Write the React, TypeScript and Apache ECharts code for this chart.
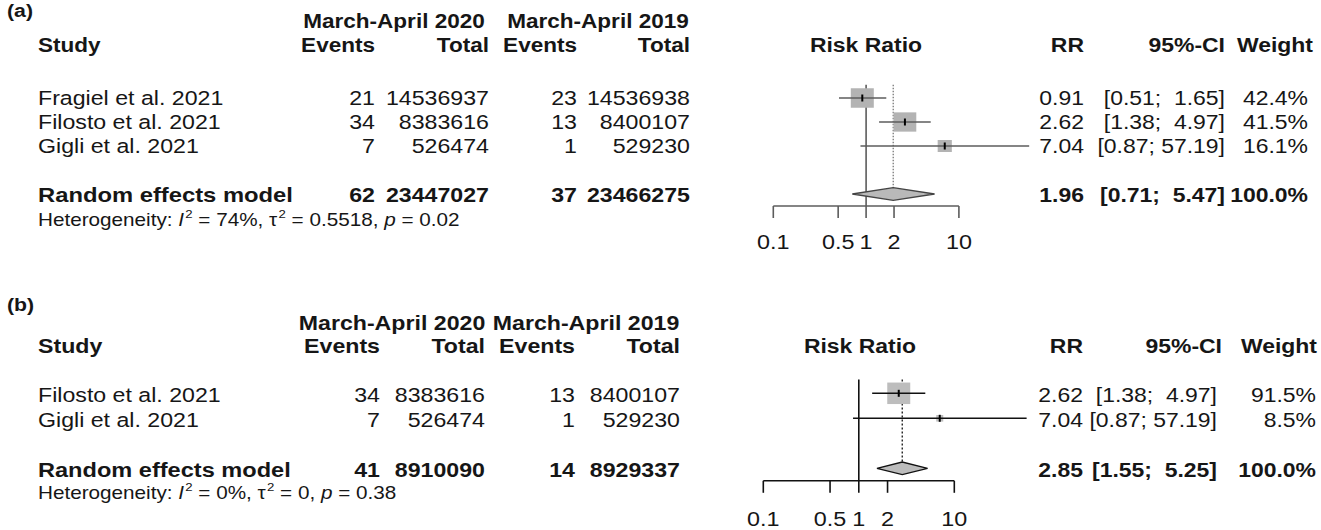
import React, { useEffect, useRef } from "react";
import * as echarts from "echarts";

const FONT = "'Liberation Sans', Arial, Helvetica, sans-serif";
const INK = "#161616";

// ---------- Panel (a): three studies ----------
const studiesA = ["Fragiel et al. 2021", "Filosto et al. 2021", "Gigli et al. 2021"];
const events2020A = [21, 34, 7];
const total2020A = [14536937, 8383616, 526474];
const events2019A = [23, 13, 1];
const total2019A = [14536938, 8400107, 529230];
const rrA = [0.91, 2.62, 7.04];
const lowerA = [0.51, 1.38, 0.87];
const upperA = [1.65, 4.97, 57.19];
const weightA = [42.4, 41.5, 16.1];
const pooledA = [1.96, 0.71, 5.47]; // RR, lower, upper
const pooledCountsA = [62, 23447027, 37, 23466275];
const hetA = ["74%", "0.5518", "0.02"]; // I², tau², p

// ---------- Panel (b): two studies ----------
const studiesB = ["Filosto et al. 2021", "Gigli et al. 2021"];
const events2020B = [34, 7];
const total2020B = [8383616, 526474];
const events2019B = [13, 1];
const total2019B = [8400107, 529230];
const rrB = [2.62, 7.04];
const lowerB = [1.38, 0.87];
const upperB = [4.97, 57.19];
const weightB = [91.5, 8.5];
const pooledB = [2.85, 1.55, 5.25];
const pooledCountsB = [41, 8910090, 14, 8929337];
const hetB = ["0%", "0", "0.38"];

// Risk-ratio axis
const tickValues = [0.1, 0.5, 1, 2, 10];
const tickLabels = ["0.1", "0.5", "1", "2", "10"];

const fmt2 = (v: number) => v.toFixed(2);
const ciText = (lo: number, hi: number) =>
  "[" + fmt2(lo) + "; " + (hi < 10 ? "\u00a0" : "") + fmt2(hi) + "]";
const pct = (w: number) => w.toFixed(1) + "%";

type TextOpts = { size?: number; bold?: boolean; sx?: number; rich?: any; fill?: string };

function txt(x: number, y: number, text: string, align: string, o: TextOpts = {}) {
  return {
    type: "text",
    x,
    y,
    scaleX: o.sx ?? 1.12,
    silent: true,
    style: {
      text,
      align,
      verticalAlign: "middle",
      fontFamily: FONT,
      fontSize: o.size ?? 20.5,
      fontWeight: o.bold ? "bold" : "normal",
      fill: o.fill ?? INK,
      rich: o.rich,
      lineHeight: o.size ? o.size + 4 : 24,
    },
  };
}

type PanelLayout = {
  cols: number[]; // right edges: events20, total20, events19, total19
  group: number[]; // centres of the grouped period headers
  rows: number[]; // y of study rows
  sumY: number;
  hetY: number;
  groupY: number;
  headY: number;
  labelY: number;
  rrHead: number;
  rrRight: number;
  ciRight: number;
  ciHeadRight: number;
  wRight: number;
  wHeadRight: number;
  sx: number; // horizontal stretch of regular table text
  sxHead: number; // horizontal stretch of bold headers
  sxSum: number; // horizontal stretch of the pooled row
};

function tableText(
  tag: string,
  L: PanelLayout,
  studies: string[],
  e20: number[],
  t20: number[],
  e19: number[],
  t19: number[],
  rr: number[],
  lo: number[],
  hi: number[],
  w: number[],
  pooled: number[],
  counts: number[],
  het: string[]
) {
  const els: any[] = [];
  const { sx, sxHead, sxSum } = L;
  els.push(txt(7, L.labelY, tag, "left", { bold: true, size: 19, sx: 1.12 }));
  els.push(txt(L.group[0], L.groupY, "March-April 2020", "center", { bold: true, sx: sxHead }));
  els.push(txt(L.group[1], L.groupY, "March-April 2019", "center", { bold: true, sx: sxHead }));
  els.push(txt(38, L.headY, "Study", "left", { bold: true, sx: sxHead }));
  els.push(txt(L.cols[0], L.headY, "Events", "right", { bold: true, sx: sxHead }));
  els.push(txt(L.cols[1], L.headY, "Total", "right", { bold: true, sx: sxHead }));
  els.push(txt(L.cols[2], L.headY, "Events", "right", { bold: true, sx: sxHead }));
  els.push(txt(L.cols[3], L.headY, "Total", "right", { bold: true, sx: sxHead }));
  els.push(txt(L.rrHead, L.headY, "Risk Ratio", "center", { bold: true }));
  els.push(txt(L.rrRight, L.headY, "RR", "right", { bold: true }));
  els.push(txt(L.ciHeadRight, L.headY, "95%-CI", "right", { bold: true }));
  els.push(txt(L.wHeadRight, L.headY, "Weight", "right", { bold: true }));

  studies.forEach((s, i) => {
    const y = L.rows[i];
    els.push(txt(38, y, s, "left", { sx }));
    els.push(txt(L.cols[0], y, String(e20[i]), "right", { sx }));
    els.push(txt(L.cols[1], y, String(t20[i]), "right", { sx }));
    els.push(txt(L.cols[2], y, String(e19[i]), "right", { sx }));
    els.push(txt(L.cols[3], y, String(t19[i]), "right", { sx }));
    els.push(txt(L.rrRight, y, fmt2(rr[i]), "right"));
    els.push(txt(L.ciRight, y, ciText(lo[i], hi[i]), "right"));
    els.push(txt(L.wRight, y, pct(w[i]), "right"));
  });

  const y = L.sumY;
  els.push(txt(38, y, "Random effects model", "left", { bold: true, sx: sxSum }));
  counts.forEach((c, k) => els.push(txt(L.cols[k], y, String(c), "right", { bold: true, sx })));
  els.push(txt(L.rrRight, y, fmt2(pooled[0]), "right", { bold: true }));
  els.push(txt(L.ciRight, y, ciText(pooled[1], pooled[2]), "right", { bold: true }));
  els.push(txt(L.wRight, y, "100.0%", "right", { bold: true }));

  const rich = {
    i: { fontStyle: "italic", fontFamily: FONT, fontSize: 18, fill: INK, lineHeight: 23 },
    s: { fontFamily: FONT, fontSize: 11.5, fill: INK, verticalAlign: "top", lineHeight: 23, padding: [0, 0, 0, 1] },
  };
  els.push(
    txt(
      38,
      L.hetY,
      `Heterogeneity: {i|I}{s|2} = ${het[0]}, τ{s|2} = ${het[1]}, {i|p} = ${het[2]}`,
      "left",
      { size: 18, sx: 1.15, rich }
    )
  );
  return els;
}

type ForestStyle = {
  line: string;
  square: string;
  diamondFill: string;
  diamondStroke: string;
  sqW: number;
  sqH: number;
  lw: number;
  dash: number[];
  dashColor: string;
  labelGap: number;
};

function forestSeries(
  p: number,
  rr: number[],
  lo: number[],
  hi: number[],
  w: number[],
  pooled: number[],
  st: ForestStyle
) {
  const n = rr.length;
  const sumRow = n + 1;
  const axisRow = sumRow + 0.5;
  const wMax = Math.max(...w);
  const halfD = 6.3;
  const common = {
    type: "custom",
    coordinateSystem: "cartesian2d",
    xAxisIndex: p,
    yAxisIndex: p,
    clip: false,
    silent: true,
    animation: false,
  };
  return [
    // line of no effect
    {
      ...common,
      z: 1,
      data: [[1, -0.55, axisRow]],
      renderItem: (_: any, api: any) => {
        const a = api.coord([api.value(0), api.value(1)]);
        const b = api.coord([api.value(0), api.value(2)]);
        return {
          type: "line",
          shape: { x1: a[0], y1: a[1], x2: b[0], y2: b[1] },
          style: { stroke: st.line, lineWidth: st.lw },
        };
      },
    },
    // pooled estimate reference (dotted)
    {
      ...common,
      z: 1,
      data: [[pooled[0], -0.55, sumRow]],
      renderItem: (_: any, api: any) => {
        const a = api.coord([api.value(0), api.value(1)]);
        const b = api.coord([api.value(0), api.value(2)]);
        return {
          type: "line",
          shape: { x1: a[0], y1: a[1], x2: b[0], y2: b[1] - halfD },
          style: { stroke: st.dashColor, lineWidth: 1.3, lineDash: st.dash },
        };
      },
    },
    // studies: weighted square, CI whisker, point mark
    {
      ...common,
      z: 3,
      data: rr.map((v, i) => [v, lo[i], hi[i], i, w[i]]),
      renderItem: (_: any, api: any) => {
        const row = api.value(3);
        const c = api.coord([api.value(0), row]);
        const l = api.coord([api.value(1), row]);
        const h = api.coord([api.value(2), row]);
        const k = Math.sqrt(api.value(4) / wMax);
        const sw = st.sqW * k;
        const sh = st.sqH * k;
        return {
          type: "group",
          children: [
            {
              type: "rect",
              shape: { x: c[0] - sw / 2, y: c[1] - sh / 2, width: sw, height: sh },
              style: { fill: st.square },
            },
            {
              type: "line",
              shape: { x1: l[0], y1: l[1], x2: h[0], y2: h[1] },
              style: { stroke: st.line, lineWidth: st.lw },
            },
            {
              type: "line",
              shape: { x1: c[0], y1: c[1] - 3.5, x2: c[0], y2: c[1] + 3.5 },
              style: { stroke: "#000", lineWidth: 2 },
            },
          ],
        };
      },
    },
    // pooled diamond
    {
      ...common,
      z: 4,
      data: [pooled.concat([sumRow])],
      renderItem: (_: any, api: any) => {
        const row = api.value(3);
        const c = api.coord([api.value(0), row]);
        const l = api.coord([api.value(1), row]);
        const h = api.coord([api.value(2), row]);
        return {
          type: "polygon",
          shape: {
            points: [
              [l[0], c[1]],
              [c[0], c[1] - halfD],
              [h[0], c[1]],
              [c[0], c[1] + halfD],
            ],
          },
          style: { fill: st.diamondFill, stroke: st.diamondStroke, lineWidth: 1.3 },
        };
      },
    },
    // x axis line
    {
      ...common,
      z: 2,
      data: [[tickValues[0], tickValues[tickValues.length - 1], axisRow]],
      renderItem: (_: any, api: any) => {
        const a = api.coord([api.value(0), api.value(2)]);
        const b = api.coord([api.value(1), api.value(2)]);
        return {
          type: "line",
          shape: { x1: a[0], y1: a[1], x2: b[0], y2: b[1] },
          style: { stroke: st.line, lineWidth: st.lw },
        };
      },
    },
    // ticks and tick labels
    {
      ...common,
      z: 2,
      data: tickValues.map((v, i) => [v, axisRow, i]),
      renderItem: (_: any, api: any) => {
        const c = api.coord([api.value(0), api.value(1)]);
        return {
          type: "group",
          children: [
            {
              type: "line",
              shape: { x1: c[0], y1: c[1], x2: c[0], y2: c[1] + 12 },
              style: { stroke: st.line, lineWidth: st.lw },
            },
            {
              type: "text",
              x: c[0],
              y: c[1] + st.labelGap,
              scaleX: 1.14,
              style: {
                text: tickLabels[api.value(2)],
                align: "center",
                verticalAlign: "middle",
                fontFamily: FONT,
                fontSize: 20.5,
                fill: INK,
              },
            },
          ],
        };
      },
    },
  ];
}

const layoutA: PanelLayout = {
  cols: [375, 489, 577, 690],
  group: [394, 598],
  rows: [98, 122, 146],
  sumY: 195,
  hetY: 220,
  groupY: 21,
  headY: 45,
  labelY: 10,
  rrHead: 866,
  rrRight: 1084,
  ciRight: 1225,
  ciHeadRight: 1225,
  wRight: 1308,
  wHeadRight: 1313,
  sx: 1.13,
  sxHead: 1.1,
  sxSum: 1.16,
};

const layoutB: PanelLayout = {
  cols: [380, 485, 575, 680],
  group: [392, 586],
  rows: [395, 420],
  sumY: 470,
  hetY: 493,
  groupY: 323,
  headY: 346,
  labelY: 304,
  rrHead: 860,
  rrRight: 1083,
  ciRight: 1217,
  ciHeadRight: 1222,
  wRight: 1316,
  wHeadRight: 1317,
  sx: 1.13,
  sxHead: 1.13,
  sxSum: 1.15,
};

const styleA: ForestStyle = {
  line: "#5c5c5c",
  square: "#b3b3b3",
  diamondFill: "#b9b9b9",
  diamondStroke: "#444",
  sqW: 23,
  sqH: 19.5,
  lw: 1.6,
  dash: [1.5, 1.5],
  dashColor: "#777",
  labelGap: 36,
};

const styleB: ForestStyle = {
  line: "#111",
  square: "#bdbdbd",
  diamondFill: "#bcbcbc",
  diamondStroke: "#111",
  sqW: 23,
  sqH: 21.5,
  lw: 1.6,
  dash: [2, 2],
  dashColor: "#111",
  labelGap: 38,
};

export default function App() {
  const ref = useRef<HTMLDivElement>(null);

  useEffect(() => {
    if (!ref.current) return;
    const chart = echarts.init(ref.current, null, { renderer: "svg" });
    const option = {
      animation: false,
      backgroundColor: "#ffffff",
      grid: [
        // 0.1 at x=773.3, one decade ≈ 92.8 px; rows 24 px apart starting at y=98
        { left: 773.3, width: 278.4, top: 74, height: 144 },
        // 0.1 at x=763.3, one decade ≈ 95.5 px; rows 25 px apart starting at y=393
        { left: 763.3, width: 286.5, top: 368.3, height: 125 },
      ],
      xAxis: [
        { type: "log", logBase: 10, min: 0.1, max: 100, gridIndex: 0, show: false },
        { type: "log", logBase: 10, min: 0.1, max: 100, gridIndex: 1, show: false },
      ],
      yAxis: [
        { type: "value", min: -1, max: 5, inverse: true, gridIndex: 0, show: false },
        { type: "value", min: -1, max: 4, inverse: true, gridIndex: 1, show: false },
      ],
      series: [
        ...forestSeries(0, rrA, lowerA, upperA, weightA, pooledA, styleA),
        ...forestSeries(1, rrB, lowerB, upperB, weightB, pooledB, styleB),
      ],
      graphic: {
        elements: [
          ...tableText(
            "(a)", layoutA, studiesA, events2020A, total2020A, events2019A, total2019A,
            rrA, lowerA, upperA, weightA, pooledA, pooledCountsA, hetA
          ),
          ...tableText(
            "(b)", layoutB, studiesB, events2020B, total2020B, events2019B, total2019B,
            rrB, lowerB, upperB, weightB, pooledB, pooledCountsB, hetB
          ),
        ],
      },
    };
    chart.setOption(option as any);
    return () => chart.dispose();
  }, []);

  return (
    <div
      ref={ref}
      style={{ position: "fixed", left: 0, top: 0, width: 1321, height: 530, background: "#fff" }}
    />
  );
}
